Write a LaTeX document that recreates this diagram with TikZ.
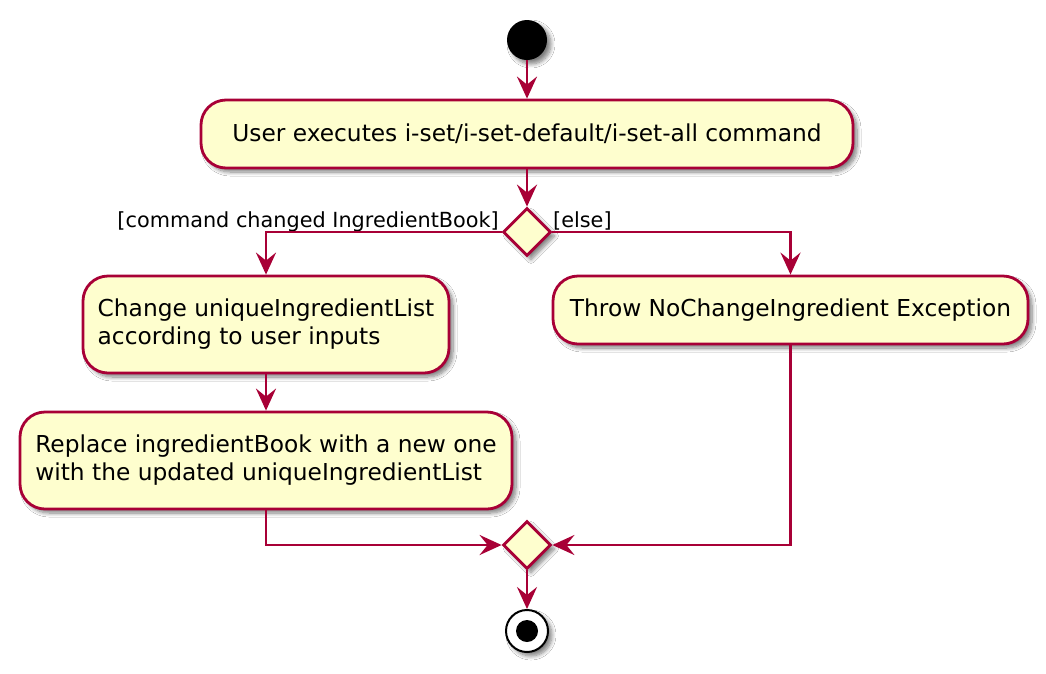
\documentclass[tikz,border=0pt]{standalone}
\usepackage{fontspec}
\setmainfont{DejaVu Sans}
\usetikzlibrary{arrows.meta,shapes.geometric,shadows.blur}
\definecolor{umlfill}{HTML}{FEFECE}
\definecolor{umlline}{HTML}{A80036}
\begin{document}
\begin{tikzpicture}[x=1pt,y=-1pt,
  shad/.style={blur shadow={shadow xshift=4pt, shadow yshift=-4pt, shadow blur radius=4pt, shadow blur steps=8, shadow opacity=50}},
  act/.style={draw=umlline, fill=umlfill, line width=2.8pt, rounded corners=25pt, inner sep=0pt, align=left, font=\fontsize{23.3}{28}\selectfont, shad},
  decis/.style={diamond, shape aspect=1, draw=umlline, fill=umlfill, line width=2.8pt, inner sep=0pt, minimum size=48pt, shad},
  guard/.style={font=\fontsize{20.8}{24}\selectfont, inner sep=0pt},
  flow/.style={draw=umlline, line width=2.8pt, -{Stealth[length=22pt, width=20pt, inset=8pt]}}]
\useasboundingbox (0,0) rectangle (1046,673);
\fill[white] (0,0) rectangle (1046,673);

\node[circle, fill=black, minimum size=40pt, inner sep=0pt, shad] (start) at (527,40) {};
\node[act, minimum width=652pt, minimum height=68pt] (box1) at (527,134) {User executes i-set/i-set-default/i-set-all command};
\node[decis] (d1) at (527,232) {};
\node[act, minimum width=366pt, minimum height=97pt] (l1) at (266,324.5) {Change uniqueIngredientList\\according to user inputs};
\node[act, minimum width=475pt, minimum height=68pt] (r1) at (790.5,310) {Throw NoChangeIngredient Exception};
\node[act, minimum width=492pt, minimum height=97pt] (l2) at (266,460.5) {Replace ingredientBook with a new one\\with the updated uniqueIngredientList};
\node[decis] (d2) at (527,545) {};
\node[circle, draw=black, line width=2pt, fill=white, minimum size=42pt, inner sep=0pt, shad] (stop) at (527,631) {};
\node[circle, fill=black, minimum size=22pt, inner sep=0pt] (stopdot) at (stop.center) {};

\node[guard, anchor=base east] (g1) at (499,227) {[command changed IngredientBook]};
\node[guard, anchor=base west] (g2) at (553,227) {[else]};

\draw[flow] (start.south) -- (box1.north);
\draw[flow] (box1.south) -- (d1.north);
\draw[flow] (d1.west) -| (l1.north);
\draw[flow] (d1.east) -| (r1.north);
\draw[flow] (l1.south) -- (l2.north);
\draw[flow] (l2.south) |- (d2.west);
\draw[flow] (r1.south) |- (d2.east);
\draw[flow] (d2.south) -- (stop.north);
\end{tikzpicture}
\end{document}
